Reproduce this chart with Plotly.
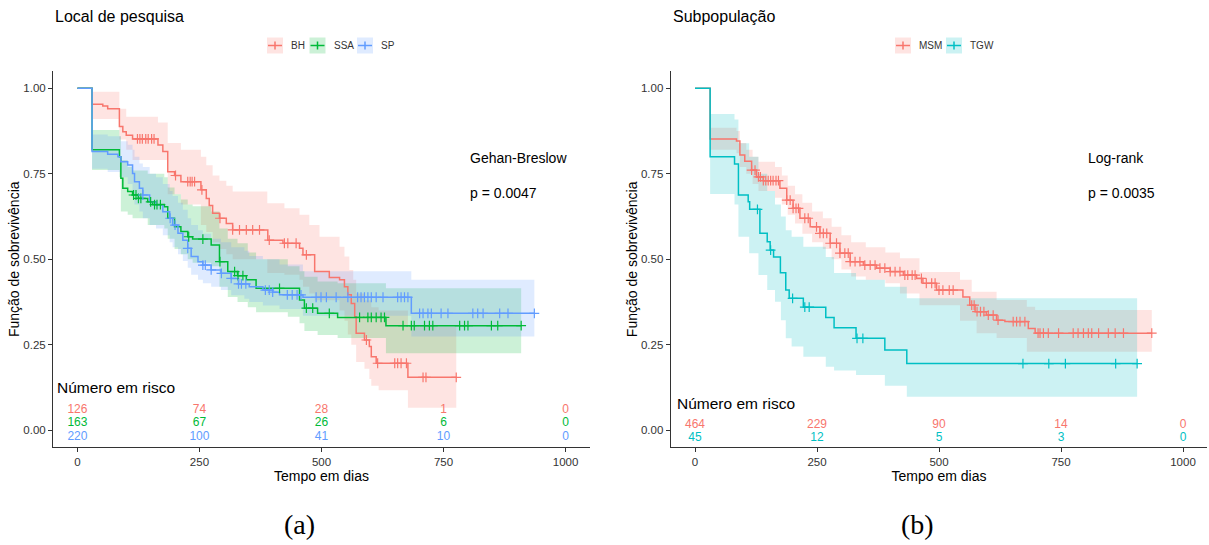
import plotly.graph_objects as go

W, H = 1209, 545

# ------------------------- DATA : panel (a) Local de pesquisa -------------------------
groups_a = ["BH", "SSA", "SP"]

bh_t = [0, 30, 52, 62, 86, 93, 100, 113, 165, 175, 185, 199, 212, 253, 264, 270, 277, 291, 305, 318,
        390, 421, 455, 462, 486, 516, 537, 547, 554, 561, 568, 571, 588, 598, 602, 612, 677]
bh_s = [1.0, 0.953, 0.948, 0.94, 0.888, 0.873, 0.863, 0.852, 0.834, 0.815, 0.756, 0.745, 0.727, 0.703,
        0.678, 0.657, 0.635, 0.62, 0.605, 0.586, 0.556, 0.547, 0.532, 0.513, 0.464, 0.447, 0.44, 0.42,
        0.396, 0.371, 0.332, 0.284, 0.264, 0.245, 0.215, 0.196, 0.155]
bh_end = 776
bh_cens = [123, 128, 133, 140, 145, 152, 157, 201, 226, 231, 235, 240, 255, 292, 318, 332, 346, 359, 373,
           393, 424, 431, 448, 469, 592, 615, 650, 656, 663, 674, 708, 714, 776]
bh_ci_t = [30, 86, 100, 113, 165, 185, 212, 253, 264, 277, 291, 305, 318, 389, 424, 455, 462, 475, 486,
           496, 537, 547, 554, 557, 561, 565, 571, 588, 598, 602, 617, 677]
bh_ci_hi = [0.99, 0.94, 0.917, 0.917, 0.90, 0.84, 0.82, 0.80, 0.775, 0.745, 0.73, 0.715, 0.698, 0.664,
            0.649, 0.63, 0.63, 0.60, 0.60, 0.566, 0.537, 0.508, 0.508, 0.469, 0.469, 0.44, 0.40, 0.38,
            0.38, 0.36, 0.35, 0.303]
bh_ci_lo = [0.91, 0.85, 0.82, 0.79, 0.79, 0.69, 0.66, 0.60, 0.58, 0.55, 0.53, 0.515, 0.50, 0.46, 0.455,
            0.44, 0.42, 0.40, 0.38, 0.38, 0.35, 0.32, 0.28, 0.28, 0.25, 0.25, 0.20, 0.18, 0.15, 0.13,
            0.117, 0.066]

ssa_t = [0, 30, 86, 89, 93, 103, 113, 125, 144, 154, 178, 185, 199, 212, 226, 236, 274, 291, 308, 328,
         346, 366, 455, 465, 492, 533, 632]
ssa_s = [1.0, 0.82, 0.80, 0.737, 0.708, 0.698, 0.688, 0.678, 0.668, 0.66, 0.654, 0.62, 0.595, 0.581,
         0.566, 0.559, 0.542, 0.493, 0.464, 0.452, 0.44, 0.415, 0.381, 0.357, 0.342, 0.33, 0.306]
ssa_end = 909
ssa_cens = [115, 120, 125, 130, 150, 158, 163, 170, 228, 257, 292, 322, 329, 339, 414, 469, 482, 516,
            578, 595, 602, 612, 622, 629, 667, 684, 690, 711, 721, 728, 783, 793, 800, 848, 861, 909]
ssa_ci_t = [30, 86, 89, 103, 113, 144, 178, 185, 199, 212, 226, 236, 274, 291, 308, 328, 349, 366, 431,
            455, 465, 492, 533, 632]
ssa_ci_hi = [0.878, 0.86, 0.79, 0.77, 0.76, 0.75, 0.74, 0.71, 0.69, 0.675, 0.66, 0.655, 0.64, 0.59, 0.56,
             0.547, 0.52, 0.50, 0.48, 0.465, 0.449, 0.435, 0.43, 0.415]
ssa_ci_lo = [0.761, 0.74, 0.64, 0.63, 0.62, 0.60, 0.59, 0.56, 0.53, 0.515, 0.50, 0.49, 0.48, 0.42, 0.39,
             0.375, 0.36, 0.345, 0.332, 0.313, 0.29, 0.279, 0.27, 0.225]

sp_t = [0, 30, 62, 83, 89, 103, 113, 117, 127, 134, 148, 161, 175, 189, 195, 206, 216, 226, 233, 247,
        257, 274, 294, 315, 330, 352, 380, 400, 414, 462, 684]
sp_s = [1.0, 0.815, 0.807, 0.80, 0.785, 0.776, 0.751, 0.727, 0.708, 0.688, 0.668, 0.659, 0.639, 0.62,
        0.60, 0.576, 0.556, 0.532, 0.508, 0.493, 0.483, 0.469, 0.459, 0.444, 0.428, 0.42, 0.41, 0.404,
        0.396, 0.389, 0.342]
sp_end = 936
sp_cens = [134, 190, 200, 226, 257, 262, 274, 295, 315, 330, 336, 345, 385, 393, 400, 430, 440, 450, 458,
           489, 499, 510, 530, 554, 574, 581, 588, 595, 602, 612, 626, 656, 663, 670, 677, 701, 708, 718,
           725, 745, 759, 810, 820, 831, 865, 882, 936]
sp_ci_t = [30, 62, 89, 103, 113, 117, 127, 134, 148, 161, 175, 189, 195, 206, 216, 226, 233, 247, 257,
           274, 294, 315, 342, 352, 380, 414, 462, 684]
sp_ci_hi = [0.865, 0.86, 0.845, 0.835, 0.82, 0.80, 0.78, 0.77, 0.75, 0.74, 0.72, 0.70, 0.685, 0.665,
            0.645, 0.62, 0.60, 0.585, 0.575, 0.56, 0.55, 0.535, 0.525, 0.51, 0.50, 0.485, 0.465, 0.44]
sp_ci_lo = [0.765, 0.755, 0.74, 0.72, 0.69, 0.66, 0.64, 0.62, 0.60, 0.59, 0.57, 0.55, 0.535, 0.515,
            0.495, 0.475, 0.455, 0.44, 0.43, 0.42, 0.41, 0.395, 0.385, 0.375, 0.365, 0.355, 0.335, 0.274]

risk_times = [0, 250, 500, 750, 1000]
risk_a = {"BH": [126, 74, 28, 1, 0], "SSA": [163, 67, 26, 6, 0], "SP": [220, 100, 41, 10, 0]}

# ------------------------- DATA : panel (b) Subpopulação -------------------------
groups_b = ["MSM", "TGW"]

msm_t = [0, 31, 85, 92, 102, 116, 126, 140, 174, 188, 201, 215, 236, 256, 277, 297, 318, 345, 372, 400,
         427, 454, 467, 495, 549, 563, 574, 597, 618, 635, 683, 697]
msm_s = [1.0, 0.852, 0.846, 0.805, 0.787, 0.761, 0.741, 0.73, 0.708, 0.673, 0.649, 0.62, 0.595, 0.576,
         0.547, 0.518, 0.493, 0.483, 0.474, 0.464, 0.454, 0.444, 0.43, 0.41, 0.39, 0.366, 0.347, 0.337,
         0.322, 0.318, 0.298, 0.284]
msm_end = 936
msm_cens = [116, 123, 130, 134, 140, 145, 150, 155, 160, 166, 171, 188, 195, 201, 207, 212, 225, 232, 249,
            256, 263, 270, 277, 290, 297, 307, 314, 318, 328, 338, 348, 359, 369, 379, 389, 400, 410,
            420, 430, 436, 445, 451, 464, 474, 485, 492, 500, 508, 521, 529, 567, 572, 578, 585, 592,
            601, 611, 621, 652, 659, 666, 676, 703, 707, 714, 724, 745, 775, 785, 796, 806, 813, 827,
            847, 861, 878, 936]
msm_ci_t = [31, 85, 92, 105, 118, 130, 164, 178, 190, 205, 220, 240, 262, 280, 300, 320, 350, 390, 420,
            460, 543, 567, 577, 618, 680, 697]
msm_ci_hi = [0.885, 0.875, 0.84, 0.82, 0.80, 0.785, 0.77, 0.745, 0.715, 0.69, 0.665, 0.64, 0.62, 0.595,
             0.57, 0.55, 0.535, 0.52, 0.503, 0.463, 0.44, 0.405, 0.405, 0.381, 0.361, 0.352]
msm_ci_lo = [0.82, 0.81, 0.77, 0.75, 0.72, 0.70, 0.68, 0.66, 0.63, 0.605, 0.575, 0.55, 0.53, 0.50, 0.47,
             0.45, 0.44, 0.43, 0.40, 0.366, 0.32, 0.32, 0.284, 0.27, 0.23, 0.23]

tgw_t = [0, 31, 81, 89, 109, 112, 133, 148, 154, 161, 175, 186, 193, 222, 268, 285, 330, 389, 434]
tgw_s = [1.0, 0.80, 0.779, 0.688, 0.668, 0.646, 0.576, 0.551, 0.527, 0.507, 0.461, 0.41, 0.386, 0.36,
         0.33, 0.30, 0.269, 0.235, 0.195]
tgw_end = 906
tgw_cens = [128, 155, 200, 225, 234, 332, 344, 672, 725, 759, 862, 906]
tgw_ci_t = [31, 81, 89, 111, 130, 148, 164, 176, 186, 198, 222, 268, 285, 330, 389, 434]
tgw_ci_hi = [0.925, 0.909, 0.839, 0.80, 0.75, 0.70, 0.66, 0.625, 0.585, 0.566, 0.537, 0.507, 0.46, 0.44,
             0.42, 0.386]
tgw_ci_lo = [0.691, 0.66, 0.566, 0.518, 0.454, 0.41, 0.376, 0.322, 0.269, 0.245, 0.215, 0.186, 0.175,
             0.162, 0.13, 0.098]

risk_b = {"MSM": [464, 229, 90, 14, 0], "TGW": [45, 12, 5, 3, 0]}

# ------------------------- STYLE -------------------------
COL = {"BH": "#F8766D", "SSA": "#00BA38", "SP": "#619CFF", "MSM": "#F8766D", "TGW": "#00BFC4"}
FILL = {"BH": "rgba(248,118,109,0.2)", "SSA": "rgba(0,186,56,0.2)", "SP": "rgba(97,156,255,0.2)",
        "MSM": "rgba(248,118,109,0.2)", "TGW": "rgba(0,191,196,0.2)"}
FONT = "Liberation Sans, Arial, sans-serif"
SERIF = "Liberation Serif, DejaVu Serif, serif"

series_a = {
    "BH": (bh_t, bh_s, bh_end, bh_cens, bh_ci_t, bh_ci_hi, bh_ci_lo),
    "SSA": (ssa_t, ssa_s, ssa_end, ssa_cens, ssa_ci_t, ssa_ci_hi, ssa_ci_lo),
    "SP": (sp_t, sp_s, sp_end, sp_cens, sp_ci_t, sp_ci_hi, sp_ci_lo),
}
series_b = {
    "MSM": (msm_t, msm_s, msm_end, msm_cens, msm_ci_t, msm_ci_hi, msm_ci_lo),
    "TGW": (tgw_t, tgw_s, tgw_end, tgw_cens, tgw_ci_t, tgw_ci_hi, tgw_ci_lo),
}


def surv_at(t, s, x):
    v = s[0]
    for ti, si in zip(t, s):
        if ti <= x:
            v = si
        else:
            break
    return v


def px(x):
    return x / W


def py(y):
    return 1 - y / H


fig = go.Figure()


def add_panel(series, xa, ya):
    # confidence bands
    for name, (t, s, end, cens, ct, chi, clo) in series.items():
        fig.add_trace(go.Scatter(x=list(ct) + [end], y=list(chi) + [chi[-1]], mode="lines",
                                 line=dict(width=0, shape="hv"), hoverinfo="skip", showlegend=False,
                                 xaxis=xa, yaxis=ya))
        fig.add_trace(go.Scatter(x=list(ct) + [end], y=list(clo) + [clo[-1]], mode="lines",
                                 line=dict(width=0, shape="hv"), fill="tonexty", fillcolor=FILL[name],
                                 hoverinfo="skip", showlegend=False, xaxis=xa, yaxis=ya))
    # survival curves
    for name, (t, s, end, cens, ct, chi, clo) in series.items():
        fig.add_trace(go.Scatter(x=list(t) + [end], y=list(s) + [s[-1]], mode="lines", name=name,
                                 line=dict(color=COL[name], width=1.5, shape="hv"), showlegend=False,
                                 xaxis=xa, yaxis=ya))
    # censoring marks
    for name, (t, s, end, cens, ct, chi, clo) in series.items():
        fig.add_trace(go.Scatter(x=cens, y=[surv_at(t, s, c) for c in cens], mode="markers",
                                 marker=dict(symbol="cross-thin", size=7,
                                             line=dict(color=COL[name], width=1.2)),
                                 showlegend=False, hoverinfo="skip", xaxis=xa, yaxis=ya))


add_panel(series_a, "x", "y")
add_panel(series_b, "x2", "y2")

# risk tables (text inside the plots)
rows_a_y = [0.059, 0.0205, -0.0186]
for (name, counts), yy in zip(risk_a.items(), rows_a_y):
    fig.add_trace(go.Scatter(x=risk_times, y=[yy] * len(risk_times), mode="text",
                             text=[str(c) for c in counts],
                             textfont=dict(family=FONT, size=12, color=COL[name]),
                             showlegend=False, hoverinfo="skip", xaxis="x", yaxis="y"))
rows_b_y = [0.0167, -0.0222]
for (name, counts), yy in zip(risk_b.items(), rows_b_y):
    fig.add_trace(go.Scatter(x=risk_times, y=[yy] * len(risk_times), mode="text",
                             text=[str(c) for c in counts],
                             textfont=dict(family=FONT, size=12, color=COL[name]),
                             showlegend=False, hoverinfo="skip", xaxis="x2", yaxis="y2"))

# axes
y_dom = [py(447.4), py(71.2)]
ax_common = dict(showgrid=False, zeroline=False, showline=True, linecolor="#333333", linewidth=1,
                 ticks="outside", ticklen=4, tickwidth=1, tickcolor="#333333",
                 tickfont=dict(family=FONT, size=11.5, color="#333333"), automargin=False)
xa_common = dict(ax_common, range=[-50, 1050], tickvals=[0, 250, 500, 750, 1000],
                 title=dict(text="Tempo em dias", font=dict(family=FONT, size=14, color="black"),
                            standoff=0))
ya_common = dict(ax_common, range=[-0.05, 1.05], tickvals=[0, 0.25, 0.5, 0.75, 1.0], tickformat=".2f",
                 title=dict(text="Função de sobrevivência", font=dict(family=FONT, size=14, color="black"),
                            standoff=0))

fig.update_layout(
    width=W, height=H, margin=dict(l=0, r=0, t=0, b=0),
    paper_bgcolor="white", plot_bgcolor="white",
    xaxis=dict(xa_common, domain=[px(53), px(590)], anchor="y"),
    yaxis=dict(ya_common, domain=y_dom, anchor="x"),
    xaxis2=dict(xa_common, domain=[px(670.6), px(1207.4)], anchor="y2"),
    yaxis2=dict(ya_common, domain=y_dom, anchor="x2"),
    showlegend=False,
)

ann = []
shapes = []


def text(x, y, s, size, anchor="left", family=FONT, color="black"):
    ann.append(dict(x=px(x), y=py(y), xref="paper", yref="paper", text=s, showarrow=False,
                    xanchor=anchor, yanchor="middle", font=dict(family=family, size=size, color=color)))


# titles
text(53, 17, "Local de pesquisa", 16)
text(671, 17, "Subpopulação", 16)
# test statistics
text(468, 158, "Gehan-Breslow", 14)
text(468, 193, "p = 0.0047", 14)
text(1086, 158, "Log-rank", 14)
text(1086, 193, "p = 0.0035", 14)
# risk table headers
text(55, 387, "Número em risco", 15.5)
text(675, 403, "Número em risco", 15.5)
# panel labels
text(299, 524, "(a)", 28, anchor="center", family=SERIF)
text(917, 524, "(b)", 28, anchor="center", family=SERIF)

# manual legends (key box + line + cross, then label)
legend_a_x = [267, 309.5, 357]
legend_b_x = [895, 946]
for names, xs in ((groups_a, legend_a_x), (groups_b, legend_b_x)):
    for name, x0 in zip(names, xs):
        yc = 45.5
        shapes.append(dict(type="rect", xref="paper", yref="paper", x0=px(x0), x1=px(x0 + 16),
                           y0=py(yc + 8), y1=py(yc - 8), fillcolor=FILL[name], line=dict(width=0)))
        shapes.append(dict(type="line", xref="paper", yref="paper", x0=px(x0 + 1), x1=px(x0 + 15),
                           y0=py(yc), y1=py(yc), line=dict(color=COL[name], width=1.5)))
        shapes.append(dict(type="line", xref="paper", yref="paper", x0=px(x0 + 8), x1=px(x0 + 8),
                           y0=py(yc - 4), y1=py(yc + 4), line=dict(color=COL[name], width=1.5)))
        text(x0 + 22, yc, name, 10, color="#333333")

fig.update_layout(annotations=ann, shapes=shapes)
fig.write_html("out.html")
